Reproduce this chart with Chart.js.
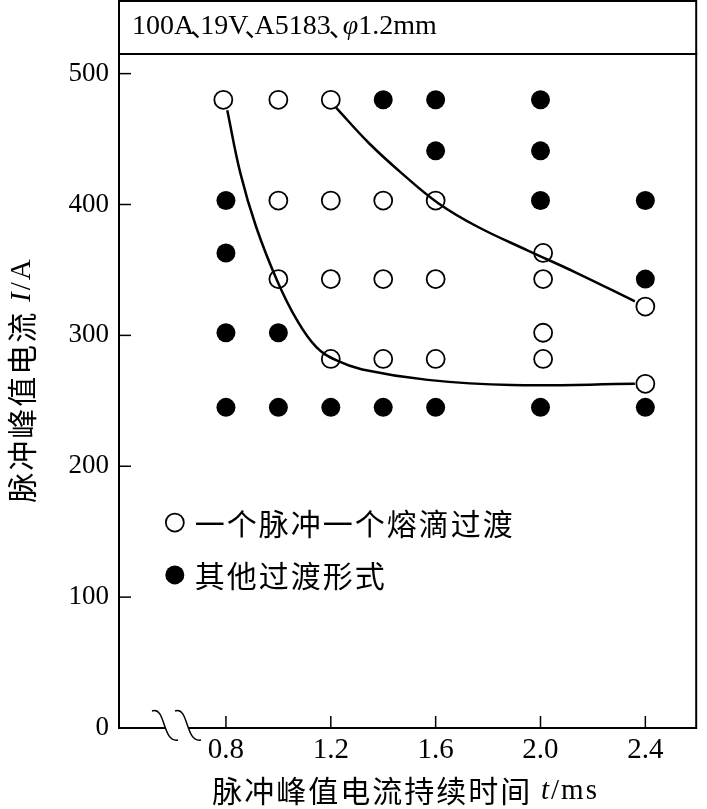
<!DOCTYPE html>
<html>
<head>
<meta charset="utf-8">
<script src="https://cdn.jsdelivr.net/npm/chart.js@4.4.1/dist/chart.umd.min.js"></script>
<style>
  html, body { margin: 0; padding: 0; background: #fff; }
  #wrap { width: 707px; height: 809px; }
</style>
</head>
<body>
<div id="wrap"><canvas id="chart"></canvas></div>
<script>
// header text and axis titles
const headerParts = ['100A', '19V', 'A5183'];
const xTitleCn = '脉冲峰值电流持续时间 ';
const yTitleCn = '脉冲峰值电流 ';
const legendLabels = ['一个脉冲一个熔滴过渡', '其他过渡形式'];

// ticks
const xTicks = [0.8, 1.2, 1.6, 2.0, 2.4];
const yTicks = [0, 100, 200, 300, 400, 500];

// open circles: one pulse one droplet
const openT = [0.79, 1.0, 1.2, 1.0, 1.2, 1.4, 1.6, 2.01, 1.0, 1.2, 1.4, 1.6, 2.01, 2.4, 2.01, 1.2, 1.4, 1.6, 2.01, 2.4];
const openI = [480, 480, 480, 403, 403, 403, 403, 363, 343, 343, 343, 343, 343, 322, 302, 282, 282, 282, 282, 263];

// filled circles: other transfer modes
const filledT = [1.4, 1.6, 2.0, 1.6, 2.0, 0.8, 2.0, 2.4, 0.8, 2.4, 0.8, 1.0, 0.8, 1.0, 1.2, 1.4, 1.6, 2.0, 2.4];
const filledI = [480, 480, 480, 441, 441, 403, 403, 403, 363, 343, 302, 302, 245, 245, 245, 245, 245, 245, 245];

// boundary curves (hand drawn in the original)
const lowerT = [0.805, 0.855, 0.915, 0.995, 1.07, 1.145, 1.22, 1.32, 1.57, 1.89, 2.36];
const lowerI = [472, 424, 383, 342, 312, 291, 281, 274, 266, 262, 263];
const upperT = [1.22, 1.345, 1.47, 1.61, 1.76, 1.95, 2.135, 2.36];
const upperI = [474, 447, 424, 401, 383, 365, 348, 326];

const pts = (xs, ys) => xs.map((x, i) => ({ x: x, y: ys[i] }));

const SERIF = '"Liberation Serif", "Times New Roman", serif';
const CJK = '"Noto Sans CJK SC", sans-serif';

function drawMixed(ctx, parts, x, y, align) {
  // parts: [text, font, optional advance, optional x shift]
  let total = 0;
  parts.forEach(p => {
    ctx.font = p[1];
    total += p[2] != null ? p[2] : ctx.measureText(p[0]).width;
  });
  let cx = align === 'center' ? x - total / 2 : x;
  ctx.textAlign = 'left';
  parts.forEach(p => {
    ctx.font = p[1];
    ctx.fillText(p[0], cx + (p[3] || 0), y);
    cx += p[2] != null ? p[2] : ctx.measureText(p[0]).width;
  });
}

const decor = {
  id: 'decor',
  afterDraw(chart) {
    const ctx = chart.ctx;
    const a = chart.chartArea;
    const xs = chart.scales.x, ys = chart.scales.y;
    ctx.save();
    ctx.strokeStyle = '#000';
    ctx.fillStyle = '#000';

    // frame
    ctx.lineWidth = 2;
    ctx.strokeRect(a.left, a.top, a.right - a.left, a.bottom - a.top);
    // header box
    ctx.strokeRect(a.left, 1, a.right - a.left, a.top - 1);
    ctx.textBaseline = 'middle';
    const hf = '28px ' + SERIF, sep = '26px ' + CJK;
    drawMixed(ctx, [
      [headerParts[0], hf],
      ['、', sep, 6, -4],
      [headerParts[1], hf],
      ['、', sep, 6, -4],
      [headerParts[2], hf],
      ['、', sep, 12, -2],
      ['φ', 'italic 28px ' + SERIF],
      ['1.2mm', hf]
    ], a.left + 13, 27, 'left');

    // inward tick marks
    ctx.lineWidth = 1.5;
    xTicks.forEach(v => {
      const px = xs.getPixelForValue(v);
      ctx.beginPath(); ctx.moveTo(px, a.bottom); ctx.lineTo(px, a.bottom - 12); ctx.stroke();
    });
    yTicks.forEach(v => {
      const py = ys.getPixelForValue(v);
      ctx.beginPath(); ctx.moveTo(a.left, py); ctx.lineTo(a.left + 12, py); ctx.stroke();
    });

    // axis break
    const bx = a.left + 33, by = a.bottom;
    ctx.fillStyle = '#fff';
    ctx.fillRect(bx + 13, by - 2, 24, 4);
    ctx.strokeStyle = '#000';
    ctx.lineWidth = 1.5;
    [0, 23].forEach(off => {
      ctx.beginPath();
      ctx.moveTo(bx + off, by - 17);
      ctx.bezierCurveTo(bx + off + 14, by - 22, bx + off + 10, by + 15, bx + off + 26, by + 12);
      ctx.stroke();
    });

    // legend
    ctx.fillStyle = '#000';
    const lx = xs.getPixelForValue(0.605);
    const ly1 = ys.getPixelForValue(157), ly2 = ys.getPixelForValue(117);
    ctx.lineWidth = 1.8;
    ctx.beginPath(); ctx.arc(lx, ly1, 9, 0, Math.PI * 2);
    ctx.fillStyle = '#fff'; ctx.fill(); ctx.stroke();
    ctx.fillStyle = '#000';
    ctx.beginPath(); ctx.arc(lx, ly2, 9.5, 0, Math.PI * 2); ctx.fill();
    ctx.font = '30px ' + CJK;
    ctx.textAlign = 'left';
    ctx.letterSpacing = '2px';
    ctx.fillText(legendLabels[0], lx + 20, ly1 + 1);
    ctx.fillText(legendLabels[1], lx + 20, ly2 + 1);

    // axis titles
    drawMixed(ctx, [
      [xTitleCn, '30px ' + CJK],
      ['t', 'italic 29px ' + SERIF],
      ['/ms', '29px ' + SERIF]
    ], (a.left + a.right) / 2 - 2, 791, 'center');

    ctx.translate(22, 380);
    ctx.rotate(-Math.PI / 2);
    drawMixed(ctx, [
      [yTitleCn, '30px ' + CJK],
      ['I', 'italic 29px ' + SERIF],
      ['/A', '29px ' + SERIF]
    ], 0, 0, 'center');
    ctx.restore();
  }
};

new Chart(document.getElementById('chart'), {
  type: 'scatter',
  data: {
    datasets: [
      {
        label: 'lower', data: pts(lowerT, lowerI), showLine: true, pointRadius: 0,
        borderColor: '#000', borderWidth: 2.5, tension: 0.4, order: 0
      },
      {
        label: 'upper', data: pts(upperT, upperI), showLine: true, pointRadius: 0,
        borderColor: '#000', borderWidth: 2.5, tension: 0.4, order: 0
      },
      {
        label: legendLabels[0], data: pts(openT, openI), pointRadius: 9,
        pointBackgroundColor: '#fff', pointBorderColor: '#000', pointBorderWidth: 1.8, order: 1
      },
      {
        label: legendLabels[1], data: pts(filledT, filledI), pointRadius: 9.5,
        pointBackgroundColor: '#000', pointBorderColor: '#000', pointBorderWidth: 0, order: 1
      }
    ]
  },
  options: {
    responsive: true,
    maintainAspectRatio: false,
    animation: false,
    layout: { padding: { top: 54, right: 1, left: 0, bottom: 0 } },
    plugins: { legend: { display: false }, tooltip: { enabled: false } },
    scales: {
      x: {
        type: 'linear', min: 0.392, max: 2.594,
        grid: { display: false, drawTicks: false },
        border: { display: false },
        afterBuildTicks: s => { s.ticks = xTicks.map(v => ({ value: v })); },
        afterFit: s => { s.height = 81; },
        ticks: {
          color: '#000', padding: 5,
          font: { family: SERIF, size: 29 },
          callback: v => v.toFixed(1)
        }
      },
      y: {
        type: 'linear', min: 0, max: 515,
        grid: { display: false, drawTicks: false },
        border: { display: false },
        afterBuildTicks: s => { s.ticks = yTicks.map(v => ({ value: v })); },
        afterFit: s => { s.width = 119; },
        ticks: {
          color: '#000', padding: 10,
          font: { family: SERIF, size: 27 },
          callback: v => String(v)
        }
      }
    }
  },
  plugins: [decor]
});
</script>
</body>
</html>
